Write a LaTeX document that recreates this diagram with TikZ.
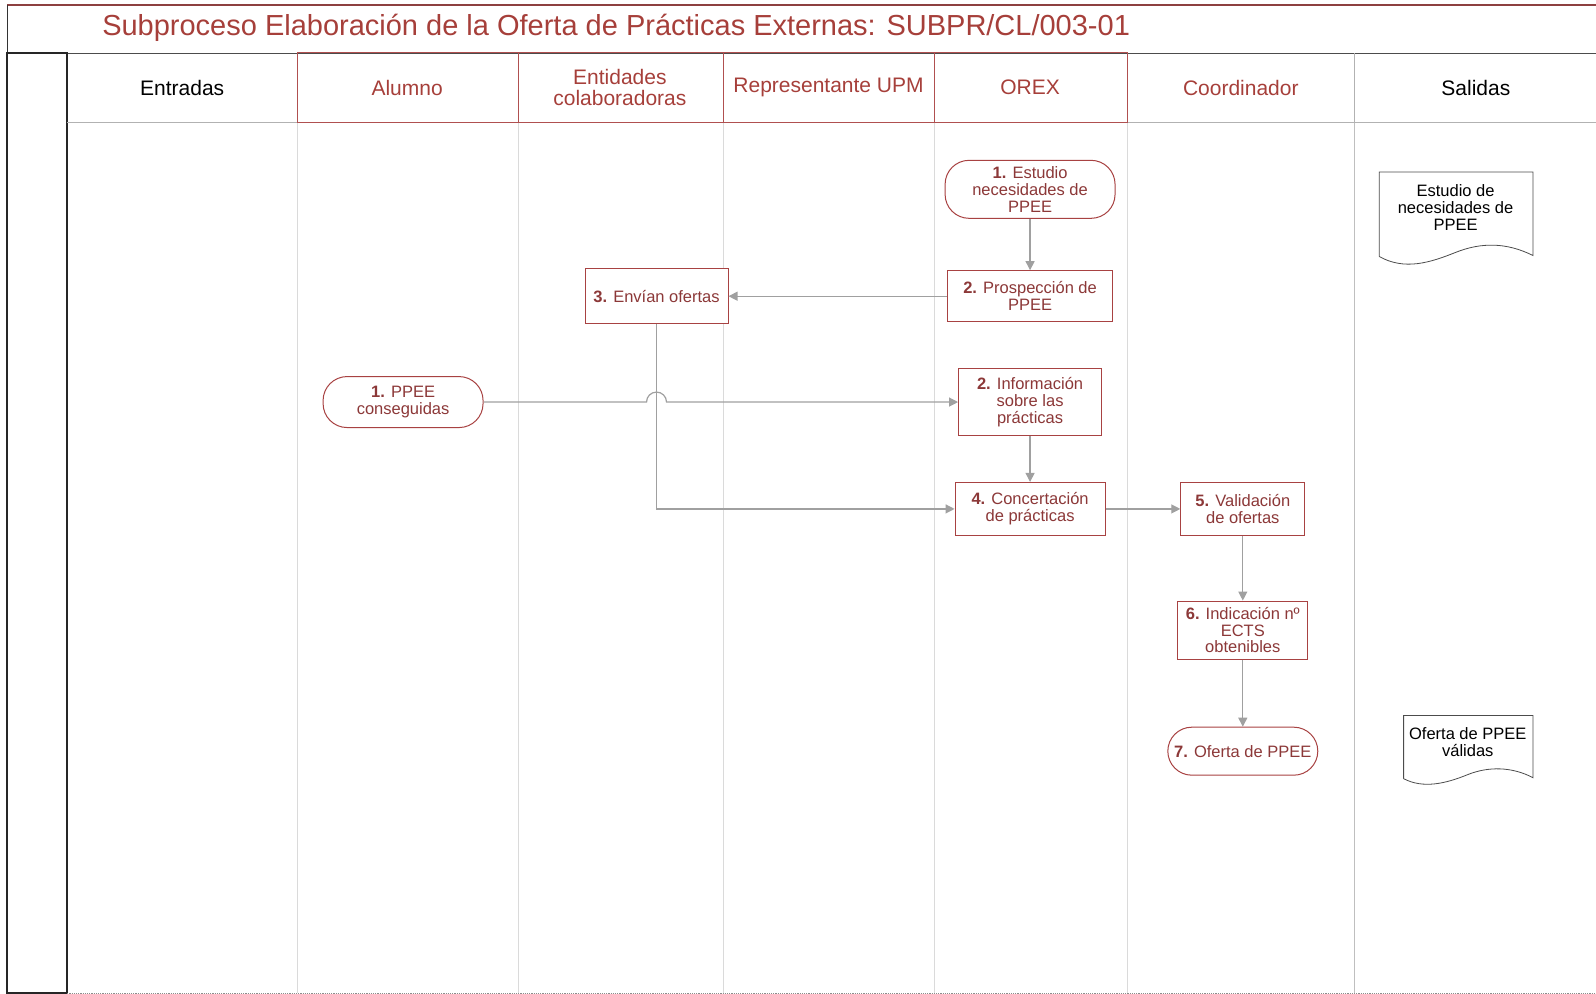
\documentclass[tikz,border=0pt]{standalone}
\usepackage{fontspec}
\setmainfont{Liberation Sans}
\usetikzlibrary{arrows.meta,calc}
\definecolor{dred}{HTML}{8C3838}
\definecolor{bred}{HTML}{A84242}
\definecolor{tred}{HTML}{A63F3A}
\definecolor{hred}{HTML}{B05050}
\definecolor{cgray}{HTML}{A0A0A0}
\definecolor{lgray}{HTML}{DADADA}
\begin{document}
\begin{tikzpicture}[x=1.018pt,y=-1.018pt,
  every node/.style={font=\fontsize{16.5}{16.8}\selectfont},
  procbox/.style={draw=bred,line width=1pt,fill=white,text=dred,align=center,inner sep=0pt},
  stadium/.style={procbox,rounded corners=24pt},
  hdr/.style={font=\fontsize{21}{21}\selectfont,align=center},
  conn/.style={draw=cgray,line width=1.2pt,-{Triangle[length=9pt,width=9pt]}},
  lane/.style={draw=lgray,line width=0.8pt},
  docshape/.style={draw=black!70,line width=0.8pt,fill=white}
]
\useasboundingbox (0,0) rectangle (1568,976);
% frame
\draw[draw=black!70,line width=0.8pt] (7,52) -- (1568,52);
\draw[draw=hred!80!black,line width=1.5pt] (7,5) -- (1568,5);
\draw[draw=black!80,line width=1pt] (7,5) -- (7,976);
\draw[draw=black!85,line width=2pt] (7,52) rectangle (66,976);
\node[anchor=west,text=tred,font=\fontsize{29}{30}\selectfont] (title) at (97,27) {Subproceso Elaboración de la Oferta de Prácticas Externas: SUBPR/CL/003-01};
% lanes
\foreach \xx in {292,509,711,918,1108}{\draw[lane] (\xx,120) -- (\xx,976);}
\draw[draw=black!25,line width=1pt] (1331,120) -- (1331,976);
\draw[draw=black!30,line width=1pt] (66,120) -- (1568,120);
\draw[draw=black!45,line width=1.2pt,densely dotted] (66,976) -- (1568,976);
% header cells
\draw[draw=black!30,line width=1pt] (1331,52) -- (1331,120);
\draw[draw=hred,line width=1pt] (292,52) rectangle (1108,120);
\foreach \xx in {509,711,918}{\draw[draw=hred,line width=1pt] (\xx,52) -- (\xx,120);}
\node[hdr] (h1) at (179,86) {Entradas};
\node[hdr,text=tred] (h2) at (400,86) {Alumno};
\node[hdr,text=tred] (h3) at (609,86) {Entidades\\colaboradoras};
\node[hdr,text=tred] (h4) at (814,86) {Representante UPM};
\node[hdr,text=tred] (h5) at (1012,86) {OREX};
\node[hdr,text=tred] (h6) at (1219,86) {Coordinador};
\node[hdr] (h7) at (1450,86) {Salidas};
% process nodes
\node[stadium,minimum width=170pt,minimum height=58pt] (est) at (1012,186) {\textbf{1.} Estudio\\necesidades de\\PPEE};
\node[procbox,minimum width=165pt,minimum height=51pt] (pros) at (1012,291) {\textbf{2.} Prospección de\\PPEE};
\node[procbox,minimum width=143pt,minimum height=55pt] (env) at (645,291) {\textbf{3.} Envían ofertas};
\node[stadium,minimum width=160pt,minimum height=51pt] (ppee) at (396,395) {\textbf{1.} PPEE\\conseguidas};
\node[procbox,minimum width=143pt,minimum height=67pt] (info) at (1012,395) {\textbf{2.} Información\\sobre las\\prácticas};
\node[procbox,minimum width=150pt,minimum height=53pt] (conc) at (1012,500) {\textbf{4.} Concertación\\de prácticas};
\node[procbox,minimum width=124pt,minimum height=53pt] (val) at (1221,500) {\textbf{5.} Validación\\de ofertas};
\node[procbox,minimum width=130pt,minimum height=58pt] (ind) at (1221,619) {\textbf{6.} Indicación nº\\ECTS\\obtenibles};
\node[stadium,minimum width=150pt,minimum height=48pt] (ofe) at (1221,738) {\textbf{7.} Oferta de PPEE};
% documents
\draw[docshape] (1355,252) -- (1355,169) -- (1506,169) -- (1506,251)
  .. controls (1480,238) and (1455,238) .. (1430,248)
  .. controls (1405,258) and (1380,266) .. (1355,252);
\node[align=center] (d1) at (1430,204) {Estudio de\\necesidades de\\PPEE};
\draw[docshape] (1379,765) -- (1379,703) -- (1506,703) -- (1506,764)
  .. controls (1485,753) and (1462,753) .. (1442,761)
  .. controls (1420,770) and (1398,775) .. (1379,765);
\node[align=center] (d2) at (1442,729) {Oferta de PPEE\\válidas};
% connectors
\draw[conn] (est.south) -- (pros.north);
\draw[conn] (pros.west) -- (env.east);
\draw[conn] (env.south) |- (conc.west);
\coordinate (hop) at (env.south |- ppee.east);
\draw[conn] (ppee.east) -- ($(hop)+(-10pt,0)$) arc[start angle=180,end angle=0,radius=10pt] -- (info.west);
\draw[conn] (info.south) -- (conc.north);
\draw[conn] (conc.east) -- (val.west);
\draw[conn] (val.south) -- (ind.north);
\draw[conn] (ind.south) -- (ofe.north);
\end{tikzpicture}
\end{document}
